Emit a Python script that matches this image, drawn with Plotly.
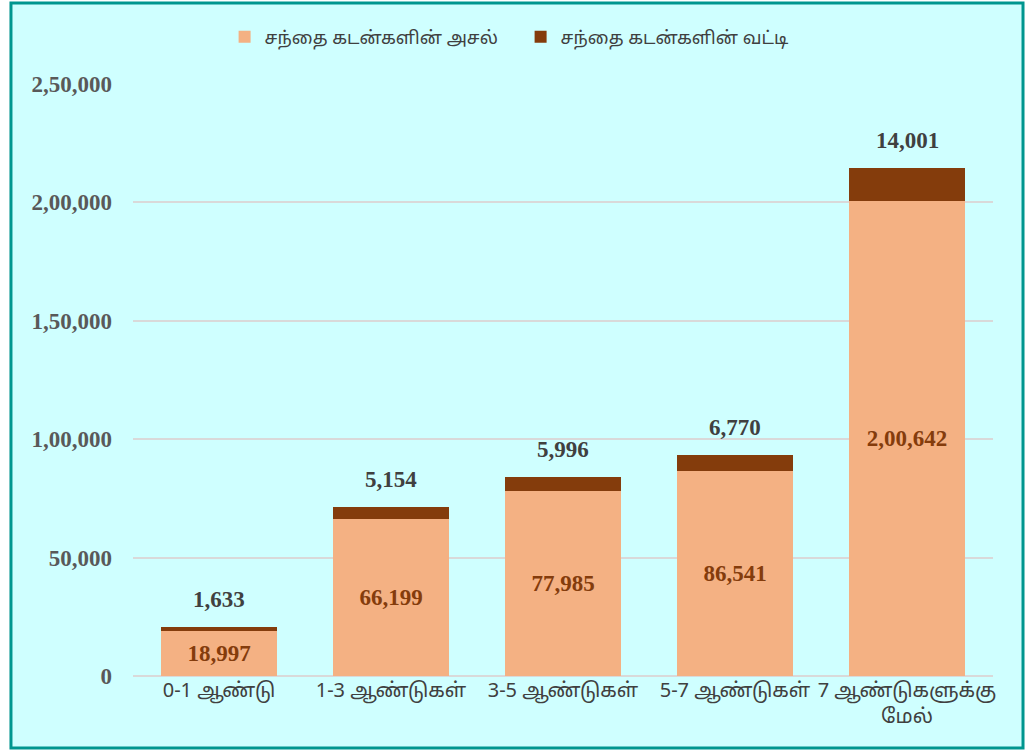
import plotly.graph_objects as go

categories = ["0-1 ஆண்டு", "1-3 ஆண்டுகள்", "3-5 ஆண்டுகள்", "5-7 ஆண்டுகள்", "7 ஆண்டுகளுக்கு<br>மேல்"]
principal = [18997, 66199, 77985, 86541, 200642]
interest = [1633, 5154, 5996, 6770, 14001]
series_names = ["சந்தை கடன்களின் அசல்", "சந்தை கடன்களின் வட்டி"]
tick_vals = [0, 50000, 100000, 150000, 200000, 250000]


def indian(n):
    s = str(int(n))
    if len(s) <= 3:
        return s
    last3 = s[-3:]
    rest = s[:-3]
    parts = []
    while len(rest) > 2:
        parts.insert(0, rest[-2:])
        rest = rest[:-2]
    if rest:
        parts.insert(0, rest)
    return ",".join(parts) + "," + last3


tick_text = [indian(v) for v in tick_vals]
totals = [p + i for p, i in zip(principal, interest)]

serif = "Liberation Serif, Times New Roman, serif"
sans = "Noto Sans, Noto Sans Tamil, sans-serif"

fig = go.Figure()
fig.add_trace(go.Bar(
    x=categories, y=principal, name=series_names[0],
    marker=dict(color="#F4B183", line=dict(width=0)),
    text=[indian(v) for v in principal], textposition="inside",
    insidetextanchor="middle",
    textfont=dict(family=serif, size=23, color="#843C0C", weight="bold"),
    hoverinfo="x+y",
))
fig.add_trace(go.Bar(
    x=categories, y=interest, name=series_names[1],
    marker=dict(color="#843C0C", line=dict(width=0)),
    hoverinfo="x+y",
))

for c, t, v in zip(categories, totals, interest):
    fig.add_annotation(
        x=c, y=t, text="<b>" + indian(v) + "</b>", showarrow=False,
        yanchor="bottom", yshift=13,
        font=dict(family=serif, size=23, color="#404040"),
    )

fig.add_shape(
    type="rect", xref="paper", yref="paper",
    x0=-0.1419, x1=1.0349, y0=-0.1216, y1=1.1368,
    fillcolor="#CFFFFF", line=dict(color="#00968F", width=3), layer="below",
)

fig.update_layout(
    barmode="stack", bargap=0.33,
    width=1035, height=751,
    margin=dict(l=133, r=42, t=84, b=75),
    paper_bgcolor="white", plot_bgcolor="rgba(0,0,0,0)",
    showlegend=True,
    legend=dict(
        orientation="h", xref="container", yref="container",
        x=0.503, xanchor="center", y=1 - 37 / 751, yanchor="middle",
        font=dict(family=sans, size=18, color="#404040"),
        bgcolor="rgba(0,0,0,0)", itemwidth=30, traceorder="normal",
        entrywidth=251, entrywidthmode="pixels",
    ),
    xaxis=dict(
        tickfont=dict(family=sans, size=20, color="#404040"),
        showgrid=False, showline=False, ticks="",
    ),
    yaxis=dict(
        range=[0, 250000], tickvals=tick_vals, ticktext=tick_text,
        tickfont=dict(family=serif, size=23, color="#595959", weight="bold"),
        showgrid=True, gridcolor="#D9D9D9", gridwidth=2,
        zeroline=True, zerolinecolor="#D9D9D9", zerolinewidth=2,
        showline=False, ticks="", ticklabelstandoff=20,
    ),
    uniformtext=dict(mode=False),
)

fig.write_html(
    "out.html",
    config={"displayModeBar": False},
    post_script="document.body.style.margin='0';document.body.style.overflow='hidden';",
)
